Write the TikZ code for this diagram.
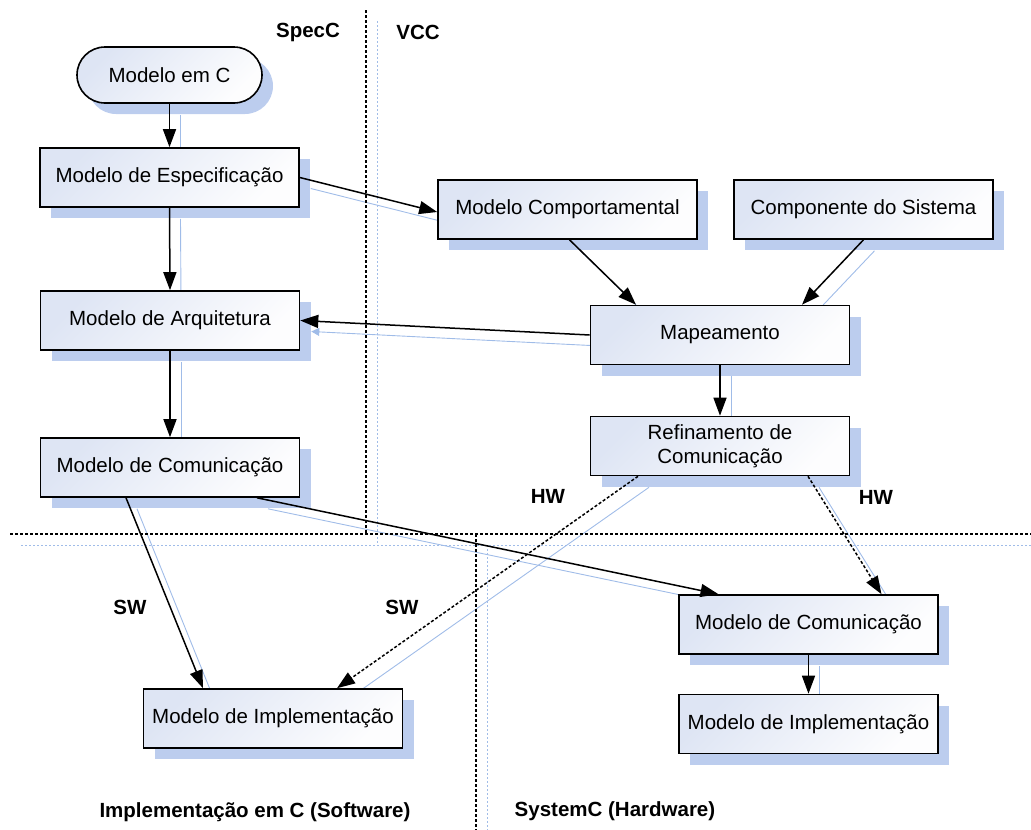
\documentclass[tikz,border=0pt]{standalone}
\usepackage{fontspec}
\setmainfont{Liberation Sans}
\usetikzlibrary{arrows.meta,shadows}
\pgfdeclarelayer{bg}
\pgfsetlayers{bg,main}

\definecolor{boxtop}{RGB}{222,229,244}
\definecolor{boxbot}{RGB}{253,253,254}
\definecolor{shadefill}{RGB}{188,205,238}
\definecolor{lineshade}{RGB}{160,188,232}

\newcommand\boxfont{\fontsize{20.5pt}{24pt}\selectfont}
\newcommand\tagfont{\fontsize{20.5pt}{24pt}\selectfont\bfseries}

% connector with its pale offset copy underneath
\newcommand\wire[5]{%
  \begin{pgfonlayer}{bg}
    \draw[wireshade] ([#2,shift={(11,11)}]#3) -- ([#4,shift={(11,11)}]#5);
  \end{pgfonlayer}
  \draw[#1] ([#2]#3) -- ([#4]#5);}

\tikzset{
  boxshadow/.style={drop shadow={shadow xshift=11pt, shadow yshift=-11pt,
      fill=shadefill, opacity=1}},
  stepbox/.style={draw=black, line width=1.6pt, minimum width=259pt,
      minimum height=59pt, inner sep=0pt, align=center,
      top color=boxtop, bottom color=boxbot, shading angle=45,
      boxshadow, font=\boxfont},
  startbox/.style={stepbox, minimum width=185pt, minimum height=56pt,
      rounded corners=28pt},
  tag/.style={font=\tagfont, inner sep=0pt},
  arrowline/.style={line width=1.5pt, -{Triangle[length=18pt,width=13pt]}},
  dashline/.style={arrowline, dash pattern=on 3pt off 2pt},
  wireshade/.style={draw=lineshade, line width=0.9pt,
      -{Triangle[length=8pt,width=8pt]}},
  divider/.style={line width=1.4pt, dash pattern=on 3pt off 2pt},
  dividershade/.style={draw=lineshade, line width=1pt, dash pattern=on 2pt off 2pt},
}

\begin{document}
\begin{tikzpicture}[x=1pt, y=-1pt]
\useasboundingbox (0,0) rectangle (1031,830);

% region dividers
\coordinate (cross) at (366,534);
\coordinate (crossb) at (476,534);
\begin{pgfonlayer}{bg}
  \draw[dividershade] (377,21) -- (377,545);
  \draw[dividershade] (21,545) -- (1031,545);
  \draw[dividershade] (487,545) -- (487,830);
\end{pgfonlayer}
\draw[divider] (366,10) -- (cross);
\draw[divider] (10,534) -- (1031,534);
\draw[divider] (crossb) -- (476,830);

% boxes
\node[startbox] (emc)   at (169.5,75)   {Modelo em C};
\node[stepbox]  (esp)   at (169.5,177.5){Modelo de Especificação};
\node[stepbox]  (arq)   at (170,320.5)  {Modelo de Arquitetura};
\node[stepbox]  (comL)  at (170,467.5)  {Modelo de Comunicação};
\node[stepbox]  (comp)  at (567.5,209.5){Modelo Comportamental};
\node[stepbox]  (sist)  at (863.5,209.5){Componente do Sistema};
\node[stepbox]  (map)   at (720,335)    {Mapeamento};
\node[stepbox]  (ref)   at (720,446)    {Refinamento de\\Comunicação};
\node[stepbox]  (comR)  at (808.5,624.5){Modelo de Comunicação};
\node[stepbox]  (implR) at (808.5,724)  {Modelo de Implementação};
\node[stepbox]  (implL) at (273,718.5)  {Modelo de Implementação};

% connectors
\wire{arrowline}{}{emc.south}{}{esp.north}
\wire{arrowline}{}{esp.south}{}{arq.north}
\wire{arrowline}{}{arq.south}{}{comL.north}
\wire{arrowline}{}{esp.east}{yshift=-2.5pt}{comp.west}
\wire{arrowline}{xshift=2pt}{comp.south}{xshift=-84pt}{map.north}
\wire{arrowline}{}{sist.south}{xshift=82pt}{map.north}
\wire{arrowline}{}{map.west}{}{arq.east}
\wire{arrowline}{}{map.south}{}{ref.north}
\wire{arrowline}{xshift=-44pt}{comL.south}{xshift=-70pt}{implL.north}
\wire{arrowline}{xshift=87pt}{comL.south}{xshift=-90pt}{comR.north}
\wire{dashline}{xshift=-82pt}{ref.south}{xshift=64pt}{implL.north}
\wire{dashline}{xshift=88pt}{ref.south}{xshift=73pt}{comR.north}
\wire{arrowline}{}{comR.south}{}{implR.north}

% region and branch labels
\node[tag] (specc) at (308,32)  {SpecC};
\node[tag] (vcc)   at (418,32)  {VCC};
\node[tag] (hw1)   at (548,496) {HW};
\node[tag] (hw2)   at (876,497) {HW};
\node[tag] (sw1)   at (130,607) {SW};
\node[tag] (sw2)   at (402,607) {SW};
\node[tag] (swreg) at (255,812) {Implementação em C (Software)};
\node[tag] (hwreg) at (615,811) {SystemC (Hardware)};
\end{tikzpicture}
\end{document}
